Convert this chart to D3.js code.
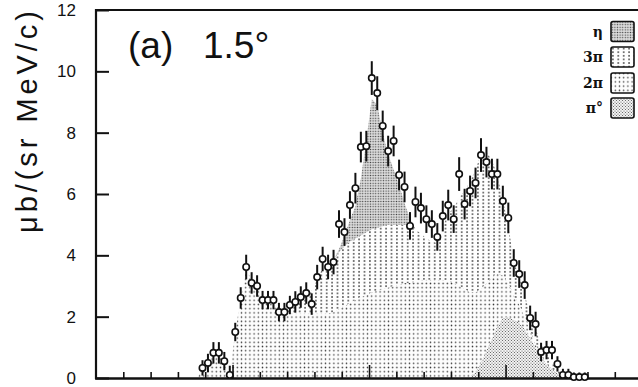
<!DOCTYPE html>
<html><head><meta charset="utf-8">
<script src="https://cdn.jsdelivr.net/npm/d3@7"></script>
<style>body{margin:0;background:#fff}svg{display:block}</style>
</head><body>
<script>
// ---- data (x in arbitrary momentum-bin units, y in µb/(sr MeV/c)) ----
const xVals = [3.9,4.1,4.3,4.5,4.7,4.9,5.1,5.3,5.5,5.7,5.9,6.1,6.3,6.5,6.7,6.9,7.1,7.3,7.5,7.7,7.9,8.1,8.3,8.5,8.7,8.9,9.1,9.3,9.5,9.7,9.9,10.1,10.3,10.5,10.7,10.9,11.1,11.3,11.5,11.7,11.9,12.1,12.3,12.5,12.7,12.9,13.1,13.3,13.5,13.7,13.9,14.1,14.3,14.5,14.7,14.9,15.1,15.3,15.5,15.7,15.9,16.1,16.3,16.5,16.7,16.9,17.1,17.3,17.5,17.7,17.9];
const yVals = [0.33,0.49,0.82,0.82,0.55,0.10,1.50,2.61,3.62,3.10,3.00,2.54,2.54,2.54,2.15,2.15,2.38,2.48,2.64,2.77,2.41,3.29,3.88,3.62,3.78,5.02,4.76,5.64,6.19,7.53,7.56,9.78,9.29,8.22,7.40,7.73,6.62,6.23,4.96,5.74,5.54,5.18,5.02,4.60,5.28,5.64,5.18,6.65,5.67,6.10,6.36,7.27,7.04,6.65,6.65,5.77,5.22,3.75,3.39,3.03,1.96,1.76,0.85,0.91,0.91,0.46,0.10,0.10,0.03,0.03,0.03];
const yErr = [0.25,0.3,0.35,0.35,0.3,0.3,0.3,0.35,0.4,0.35,0.35,0.3,0.3,0.3,0.3,0.3,0.3,0.35,0.35,0.35,0.35,0.4,0.4,0.4,0.4,0.45,0.45,0.45,0.5,0.5,0.5,0.55,0.55,0.5,0.5,0.5,0.5,0.5,0.45,0.5,0.5,0.45,0.45,0.45,0.5,0.5,0.45,0.55,0.5,0.5,0.5,0.55,0.5,0.5,0.5,0.5,0.5,0.45,0.45,0.45,0.4,0.4,0.3,0.3,0.3,0.25,0.2,0.2,0.15,0.15,0.15];

// component grid
const compX = [3.7,3.9,4.1,4.3,4.5,4.7,4.9,5.1,5.3,5.5,5.7,5.9,6.1,6.3,6.5,6.7,6.9,7.1,7.3,7.5,7.7,7.9,8.1,8.3,8.5,8.7,8.9,9.1,9.3,9.5,9.7,9.9,10.1,10.3,10.5,10.7,10.9,11.1,11.3,11.5,11.7,11.9,12.1,12.3,12.5,12.7,12.9,13.1,13.3,13.5,13.7,13.9,14.1,14.3,14.5,14.7,14.9,15.1,15.3,15.5,15.7,15.9,16.1,16.3,16.5,16.7,16.9,17.1,17.3,17.5];
const pi0 = [0,0,0,0,0,0,0,0,0,0, 0,0,0,0,0,0,0,0,0,0, 0,0,0,0,0,0,0,0,0,0, 0,0,0,0,0,0,0,0,0,0, 0,0,0,0,0,0,0,0,0,0, 0,0.2,0.5,0.9,1.3,1.7,1.95,2.0,1.9,1.8, 1.6,1.3,1.0,0.7,0.45,0.3,0.15,0.05,0,0];
const pi2 = [0,0.3,0.5,0.8,0.8,0.55,0.1,1.5,2.6,3.55, 3.2,3.0,2.6,2.5,2.4,2.2,2.1,2.1,2.1,2.1, 2.1,2.1,2.1,2.1,2.1,2.15,2.25,2.35,2.45,2.55, 2.65,2.7,2.8,2.85,2.9,2.95,3.0,3.05,3.1,3.1, 3.15,3.2,3.2,3.2,3.2,3.2,3.15,3.1,3.0,2.9, 2.8,2.6,2.4,2.2,2.0,1.7,1.4,1.1,0.8,0.6, 0.4,0.25,0.1,0.05,0,0,0,0,0,0];
const pi3 = [0,0,0,0,0,0,0,0,0,0, 0,0,0,0,0.05,0.05,0.1,0.25,0.4,0.55, 0.65,0.75,1.1,1.5,1.6,1.7,1.85,1.95,2.0,2.0, 2.0,2.05,2.05,2.05,2.05,2.05,2.0,1.95,1.9,1.85, 1.7,1.5,1.35,1.25,1.2,1.7,2.25,2.4,2.9,3.2, 3.6,4.0,4.4,4.3,3.8,3.2,2.45,1.9,1.1,0.9, 0.7,0.55,0.5,0.35,0.35,0.2,0.15,0.05,0,0];
const eta = [0,0,0,0,0,0,0,0,0,0, 0,0,0,0,0,0,0,0,0,0, 0,0,0,0,0,0,0.1,0.35,0.7,1.05, 1.85,3.0,4.25,4.0,3.05,2.3,1.8,1.3,0.7,0.25, 0,0,0,0,0,0,0,0,0,0, 0,0,0,0,0,0,0,0,0,0, 0,0,0,0,0,0,0,0,0,0];

const yTicks = [0,2,4,6,8,10,12];
const xMinorTicks = [1,2,3,4,6,7,8,9,11,12,13,14,16,17,18,19];
const xMajorTicks = [5,10,15];
const legendLabels = ["η","3π","2π","π°"];
const legendKeys = ["eta","pi3","pi2","pi0"];
const titleA = "(a)";
const titleB = "1.5°";
const yLabel = "μb/(sr MeV/c)";

// ---- drawing ----
const W = 638, H = 387;
const svg = d3.select("body").append("svg").attr("width", W).attr("height", H);
const x = d3.scaleLinear().domain([0, 19.85]).range([96, 638]);
const y = d3.scaleLinear().domain([0, 12]).range([378, 10]);

const defs = svg.append("defs");
function dotPattern(id, w, h, r, col, bg, offset) {
  const p = defs.append("pattern").attr("id", id).attr("patternUnits", "userSpaceOnUse")
    .attr("width", w).attr("height", h);
  if (bg) p.append("rect").attr("width", w).attr("height", h).attr("fill", bg);
  p.append("circle").attr("cx", w/2).attr("cy", h/2).attr("r", r).attr("fill", col);
  if (offset) {
    [[0,0],[w,0],[0,h],[w,h]].forEach(c => p.append("circle").attr("cx", c[0]).attr("cy", c[1]).attr("r", r).attr("fill", col));
  }
}
dotPattern("pat-pi2", 4.2, 4.2, 0.75, "#3a3a3a", "#fdfdfd", false);
dotPattern("pat-pi3", 5.4, 3.6, 0.8, "#2a2a2a", "#fefefe", false);
dotPattern("pat-pi0", 3.0, 3.0, 0.6, "#555", "#f4f4f4", true);
dotPattern("pat-eta", 2.6, 2.6, 0.7, "#444", "#dadada", false);

const table = compX.map((xv, i) => ({x: xv, pi0: pi0[i], pi2: pi2[i], pi3: pi3[i], eta: eta[i]}));
const stack = d3.stack().keys(["pi0","pi2","pi3","eta"]);
const series = stack(table);
const area = d3.area().x(d => x(d.data.x)).y0(d => y(d[0])).y1(d => y(d[1])).curve(d3.curveLinear);
svg.append("g").selectAll("path").data(series).join("path")
  .attr("d", area).attr("fill", d => `url(#pat-${d.key})`).attr("stroke", "none");

// axes
const axisCol = "#111";
const yAxis = d3.axisLeft(y).tickValues(yTicks).tickSize(-13).tickSizeOuter(0).tickPadding(20).tickFormat(d3.format("d"));
const gy = svg.append("g").attr("transform", `translate(96,0)`).call(yAxis);
gy.select(".domain").remove();
gy.selectAll(".tick line").attr("stroke", axisCol).attr("stroke-width", 2);
gy.selectAll(".tick text").attr("font-family", "Liberation Sans, Arial, sans-serif").attr("font-size", 17).attr("fill", "#111");

const xMin = d3.axisBottom(x).tickValues(xMinorTicks).tickSize(-6).tickSizeOuter(0).tickFormat("");
const xMaj = d3.axisBottom(x).tickValues(xMajorTicks).tickSize(-13).tickSizeOuter(0).tickFormat("");
[xMin, xMaj].forEach(ax => {
  const g = svg.append("g").attr("transform", `translate(0,378)`).call(ax);
  g.select(".domain").remove();
  g.selectAll(".tick line").attr("stroke", axisCol).attr("stroke-width", 1.6);
});

// frame lines
svg.append("line").attr("x1", 96).attr("x2", 96).attr("y1", 9).attr("y2", 379).attr("stroke", axisCol).attr("stroke-width", 2.2);
svg.append("line").attr("x1", 95).attr("x2", 638).attr("y1", 378.5).attr("y2", 378.5).attr("stroke", axisCol).attr("stroke-width", 2.4);
svg.append("line").attr("x1", 95).attr("x2", 638).attr("y1", 10).attr("y2", 10).attr("stroke", axisCol).attr("stroke-width", 2);

// data points
const pts = xVals.map((xv, i) => ({x: xv, y: yVals[i], e: yErr[i]}));
const gp = svg.append("g");
gp.selectAll("line.err").data(pts).join("line").attr("class", "err")
  .attr("x1", d => x(d.x)).attr("x2", d => x(d.x))
  .attr("y1", d => y(Math.max(0, d.y - d.e))).attr("y2", d => y(d.y + d.e))
  .attr("stroke", "#111").attr("stroke-width", 2);
gp.selectAll("circle").data(pts).join("circle")
  .attr("cx", d => x(d.x)).attr("cy", d => y(d.y)).attr("r", 3.2)
  .attr("fill", "#fff").attr("stroke", "#111").attr("stroke-width", 1.6);

// title
svg.append("text").attr("x", 128).attr("y", 58).text(titleA)
  .attr("font-family", "Liberation Sans, Arial, sans-serif").attr("font-size", 37).attr("fill", "#111");
svg.append("text").attr("x", 203).attr("y", 58).text(titleB)
  .attr("font-family", "Liberation Sans, Arial, sans-serif").attr("font-size", 37).attr("fill", "#111");

// y label
svg.append("text").attr("transform", "translate(37,122) rotate(-90)")
  .attr("text-anchor", "middle").attr("font-family", "Liberation Sans, Arial, sans-serif")
  .attr("font-size", 29).attr("fill", "#111")
  .attr("textLength", 222).attr("lengthAdjust", "spacing").text(yLabel);

// legend
const legY = [31.5, 57, 83, 108];
const lg = svg.append("g");
legendLabels.forEach((lab, i) => {
  lg.append("rect").attr("x", 611).attr("y", legY[i] - 10).attr("width", 23).attr("height", 20)
    .attr("rx", 2).attr("fill", `url(#pat-${legendKeys[i]})`).attr("stroke", "#111").attr("stroke-width", 1.6);
  lg.append("text").attr("x", 603).attr("y", legY[i] + 5).attr("text-anchor", "end")
    .attr("font-family", "DejaVu Serif, serif").attr("font-weight", "bold").attr("font-size", 14)
    .attr("fill", "#111").text(lab);
});
</script>
</body></html>
